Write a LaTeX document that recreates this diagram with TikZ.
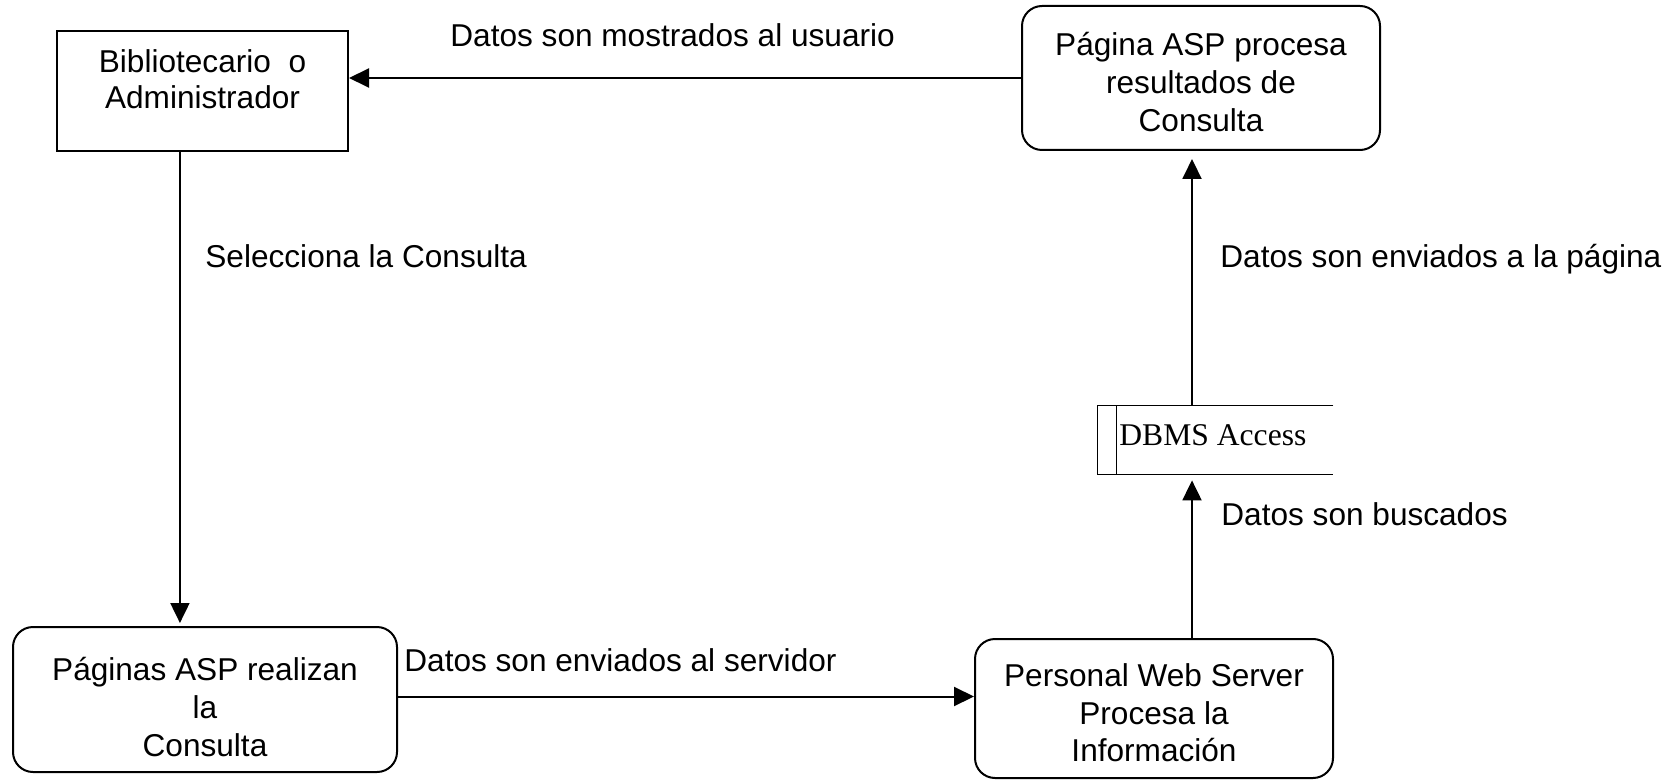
\documentclass[tikz,border=0pt]{standalone}
\usepackage{fontspec}
\setmainfont{Liberation Sans}
\newfontfamily\dbfont{Liberation Serif}
\usetikzlibrary{arrows.meta,calc}
\begin{document}
\begin{tikzpicture}[x=0.5pt,y=-0.5pt,
  every node/.style={font=\fontsize{15.8}{18.8}\selectfont, inner sep=0pt},
  boxsq/.style={draw, line width=1pt, rectangle},
  boxrd/.style={draw, line width=1pt, rounded corners=10pt},
  boxtxt/.style={align=center},
  lbl/.style={anchor=base west},
  conn/.style={line width=1pt, -{Triangle[length=10pt,width=9.5pt]}},
  store/.style={line width=0.8pt}]
\useasboundingbox (0,0) rectangle (1679,780);

% boxes
\node[boxsq, minimum width=145.5pt, minimum height=60pt] (bib) at (202.5,91) {};
\node[boxrd, minimum width=179pt, minimum height=72pt] (proc) at (1201,78) {};
\node[boxrd, minimum width=192pt, minimum height=72.5pt] (asp) at (205,699.5) {};
\node[boxrd, minimum width=179pt, minimum height=69.5pt] (pws) at (1154,708.5) {};
\node[minimum width=117.5pt, minimum height=34pt] (dbms) at (1215.5,440) {};

% box texts
\node[boxtxt, font=\fontsize{15.8}{18}\selectfont] (bibtxt) at (202.5,79) {Bibliotecario\ \ o\\Administrador};
\node[boxtxt] (proctxt) at (1201,82) {Página ASP procesa\\resultados de\\Consulta};
\node[boxtxt] (asptxt) at (205,707) {Páginas ASP realizan\\la\\Consulta};
\node[boxtxt] (pwstxt) at (1154,713) {Personal Web Server\\Procesa la\\Información};
\node[anchor=base west, font=\dbfont\fontsize{15.8}{18}\selectfont] (dbmstxt) at (1119,445) {DBMS Access};

% data store outline
\draw[store] (dbms.north east) -- (dbms.north west) -- (dbms.south west) -- (dbms.south east);
\draw[store] ($(dbms.north west)+(19,0)$) -- ($(dbms.south west)+(19,0)$);

% connectors
\draw[conn] (proc.west) -- (proc.west -| bib.east);
\coordinate (c1) at ($(bib.south west)!0.423!(bib.south east)$);
\draw[conn] (c1) -- ([yshift=1.5pt]c1 |- asp.north);
\coordinate (c2) at ($(asp.east)+(0,-3)$);
\draw[conn] (c2) -- (c2 -| pws.west);
\coordinate (c3) at ($(pws.north)+(38,0)$);
\draw[conn, shorten >=3pt] (c3) -- (c3 |- dbms.south);
\draw[conn, shorten >=4pt] (c3 |- dbms.north) -- (c3 |- proc.south);

% labels
\node[lbl] (l1) at (450,47) {Datos son mostrados al usuario};
\node[lbl] (l2) at (205,268) {Selecciona la Consulta};
\node[lbl] (l3) at (1220,268) {Datos son enviados a la página};
\node[lbl] (l4) at (1221,525) {Datos son buscados};
\node[lbl] (l5) at (404,671) {Datos son enviados al servidor};
\end{tikzpicture}
\end{document}
